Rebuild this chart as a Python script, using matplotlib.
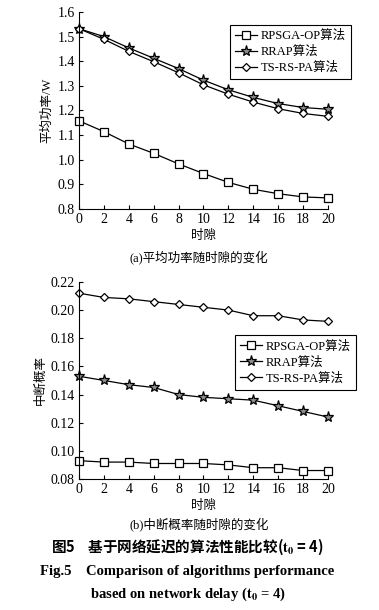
import matplotlib
matplotlib.use('Agg')
import matplotlib.pyplot as plt

plt.rcParams['font.family'] = ['Liberation Serif', 'Noto Sans CJK SC']
plt.rcParams['mathtext.fontset'] = 'stix'

# data
slots = [0, 2, 4, 6, 8, 10, 12, 14, 16, 18, 20]
labels = ['RPSGA-OP算法', 'RRAP算法', 'TS-RS-PA算法']

power_rpsga = [1.158, 1.114, 1.064, 1.026, 0.983, 0.944, 0.908, 0.880, 0.862, 0.849, 0.845]
power_rrap = [1.532, 1.500, 1.454, 1.412, 1.370, 1.323, 1.284, 1.253, 1.228, 1.212, 1.205]
power_ts = [1.532, 1.489, 1.440, 1.398, 1.353, 1.304, 1.266, 1.234, 1.207, 1.188, 1.176]

outage_rpsga = [0.093, 0.092, 0.092, 0.091, 0.091, 0.091, 0.090, 0.088, 0.088, 0.086, 0.086]
outage_rrap = [0.153, 0.150, 0.147, 0.145, 0.140, 0.138, 0.137, 0.136, 0.132, 0.128, 0.124]
outage_ts = [0.212, 0.209, 0.208, 0.206, 0.204, 0.202, 0.200, 0.196, 0.196, 0.193, 0.192]

markers = ['s', '*', 'D']
msizes = [6, 8, 4.5]
faces = ['white', '0.55', 'white']

fig = plt.figure(figsize=(3.79, 6.10), dpi=100)
ax1 = fig.add_axes([0.2084, 0.6574, 0.657, 0.323])
ax2 = fig.add_axes([0.2084, 0.2148, 0.657, 0.323])


def draw(ax, series, ylim, yticks, fmt):
    for ys, lab, m, ms, fc in zip(series, labels, markers, msizes, faces):
        ax.plot(slots, ys, color='black', lw=0.9, marker=m, ms=ms,
                mfc=fc, mec='black', mew=0.9, label=lab, clip_on=False)
    ax.set_xlim(0, 20)
    ax.set_ylim(*ylim)
    ax.set_xticks(slots)
    ax.set_yticks(yticks)
    ax.set_yticklabels([fmt.format(v) for v in yticks])
    ax.spines['top'].set_visible(False)
    ax.spines['right'].set_visible(False)
    ax.tick_params(direction='in', length=3, width=0.8, labelsize=10, pad=3)
    ax.set_xlabel('时隙', fontsize=9, labelpad=3)


draw(ax1, [power_rpsga, power_rrap, power_ts], (0.8, 1.6),
     [0.8, 0.9, 1.0, 1.1, 1.2, 1.3, 1.4, 1.5, 1.6], '{:.1f}')
ax1.set_ylabel('平均功率/W', fontsize=9, labelpad=3)
ax1.legend(loc='upper left', bbox_to_anchor=(0.58, 0.965), fontsize=9,
           frameon=True, fancybox=False, edgecolor='black', framealpha=1,
           handlelength=1.8, handletextpad=0.3, borderpad=0.4, labelspacing=0.3)
ax1.legend_.get_frame().set_linewidth(0.8)

draw(ax2, [outage_rpsga, outage_rrap, outage_ts], (0.08, 0.22),
     [0.08, 0.10, 0.12, 0.14, 0.16, 0.18, 0.20, 0.22], '{:.2f}')
ax2.set_ylabel('中断概率', fontsize=9, labelpad=3)
ax2.legend(loc='upper left', bbox_to_anchor=(0.6, 0.76), fontsize=9,
           frameon=True, fancybox=False, edgecolor='black', framealpha=1,
           handlelength=1.8, handletextpad=0.3, borderpad=0.4, labelspacing=0.3)
ax2.legend_.get_frame().set_linewidth(0.8)

fig.text(0.525, 1 - 257 / 610, '(a)平均功率随时隙的变化', ha='center', va='center', fontsize=9)
fig.text(0.525, 1 - 524 / 610, '(b)中断概率随时隙的变化', ha='center', va='center', fontsize=9)
fig.text(0.495, 1 - 547 / 610, '图5    基于网络延迟的算法性能比较($\\mathbf{t_0}$ = 4)',
         ha='center', va='center', fontsize=10.5, fontweight='bold',
         family=['Noto Sans CJK SC', 'DejaVu Sans'])
fig.text(0.495, 1 - 572 / 610, 'Fig.5    Comparison of algorithms performance',
         ha='center', va='center', fontsize=10.5, fontweight='bold')
fig.text(0.497, 1 - 594 / 610, 'based on network delay ($\\mathbf{t_0}$ = 4)',
         ha='center', va='center', fontsize=10.5, fontweight='bold')

fig.savefig('out.png', dpi=100)
